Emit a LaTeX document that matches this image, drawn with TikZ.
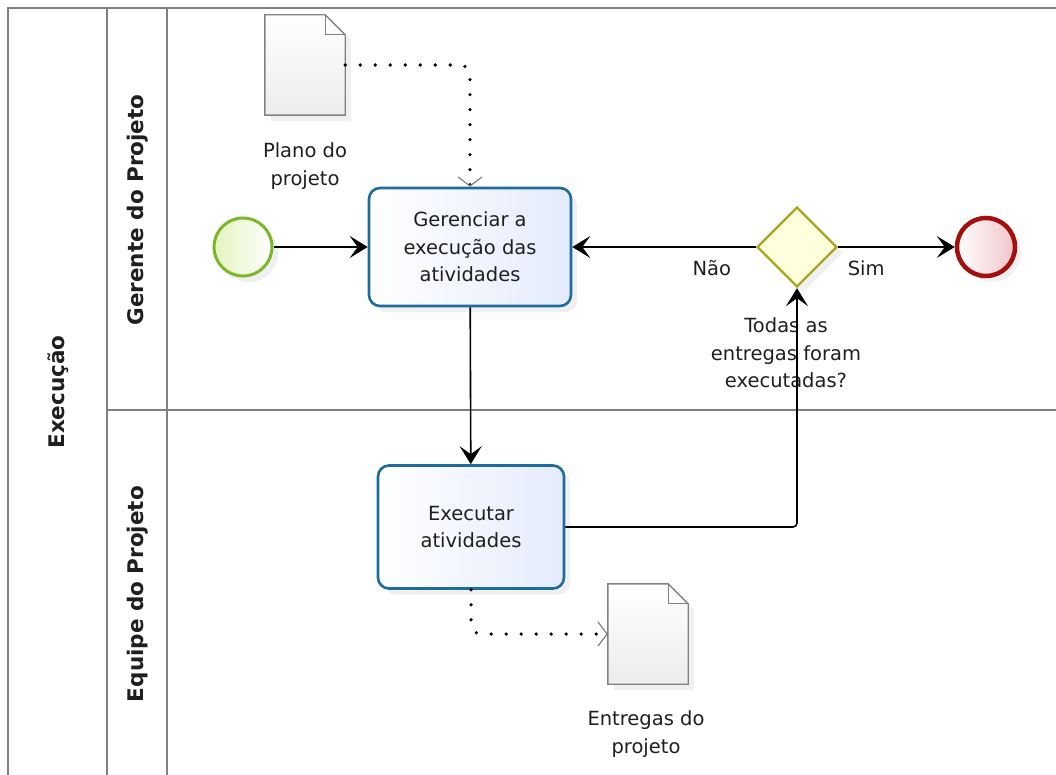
\documentclass[tikz,border=0pt]{standalone}
\usepackage{fontspec}
\setmainfont{DejaVu Sans}
\usepackage{tikz}
\usetikzlibrary{arrows.meta}
\usetikzlibrary{shapes.geometric,shadows}

\definecolor{poolgray}{RGB}{128,128,128}
\definecolor{taskblue}{RGB}{28,108,158}
\definecolor{taskfill}{RGB}{228,235,252}
\definecolor{startgreen}{RGB}{122,184,42}
\definecolor{startfill}{RGB}{228,243,190}
\definecolor{gwolive}{RGB}{168,166,30}
\definecolor{gwfill}{RGB}{255,255,222}
\definecolor{endred}{RGB}{166,14,14}
\definecolor{endfill}{RGB}{240,196,200}
\definecolor{docgray}{RGB}{130,130,130}
\definecolor{docfill}{RGB}{236,236,236}

\begin{document}
\begin{tikzpicture}[x=1pt,y=-1pt,
  every node/.style={font=\fontsize{19.5}{27.5}\selectfont,text=black!88},
  lanetext/.style={rotate=90,font=\bfseries\fontsize{21.5}{26}\selectfont},
  pool/.style={draw=poolgray,line width=2pt},
  shade/.style={drop shadow={shadow xshift=6pt,shadow yshift=-6pt,opacity=0.12}},
  task/.style={rectangle,rounded corners=11pt,draw=taskblue,line width=2.6pt,
    left color=white,right color=taskfill,align=center,shade},
  event/.style={circle,minimum size=58pt,inner sep=0pt,shade},
  gate/.style={diamond,aspect=1,minimum size=80pt,inner sep=0pt,draw=gwolive,
    line width=2.4pt,fill=gwfill,shade},
  docbox/.style={rectangle,minimum width=80pt,minimum height=100pt,inner sep=0pt},
  flow/.style={line width=1.6pt,-{Stealth[length=18pt,width=22pt,inset=8pt]}},
  assoc/.style={line width=3.6pt,line cap=round,dash pattern=on 0pt off 15pt,
    -{Straight Barb[length=9pt,width=24pt,line width=1.2pt,color=gray]}}]
\useasboundingbox (0,0) rectangle (1056,775);

% pool and lanes
\draw[pool] (1062,8) -- (8,8) -- (8,782);
\draw[pool] (107,8) -- (107,782);
\draw[pool] (167,8) -- (167,782);
\draw[pool] (107,410) -- (1062,410);
\node[lanetext] (pool) at (58,392) {Execução};
\node[lanetext] (gerente) at (138,210) {Gerente do Projeto};
\node[lanetext] (equipe) at (138,594) {Equipe do Projeto};

% data objects
\node[docbox] (plano) at (305,65) {};
\node[docbox] (entregas) at (648,634) {};
\foreach \d in {plano,entregas}{
  \path[draw=docgray,line width=1.4pt,top color=white,bottom color=docfill,shade]
    (\d.south west) -- (\d.north west) -- ([xshift=-20pt]\d.north east)
    -- ([yshift=-20pt]\d.north east) -- (\d.south east) -- cycle;
  \draw[docgray,line width=1pt] ([xshift=-20pt]\d.north east)
    -- ([xshift=-20pt,yshift=-20pt]\d.north east) -- ([yshift=-20pt]\d.north east);
}
\node[align=center] (planotxt) at (305,166) {Plano do\\projeto};
\node[align=center] (entregastxt) at (646,734) {Entregas do\\projeto};

% events, tasks, gateway
\node[event,draw=startgreen,line width=3pt,left color=startfill,right color=white] (start) at (243,247) {};
\node[task,minimum width=202pt,minimum height=118pt] (gerenciar) at (470,247) {Gerenciar a\\execução das\\atividades};
\node[task,minimum width=186pt,minimum height=123pt] (executar) at (471,527) {Executar\\atividades};
\node[gate] (gw) at (797,247) {};
\node[event,draw=endred,line width=4.5pt,left color=white,right color=endfill] (fim) at (986,247) {};
\node[align=center] (pergunta) at (786,353) {Todas as\\entregas foram\\executadas?};

% sequence flows
\draw[flow] (start) -- (gerenciar);
\draw[flow] (gerenciar) -- (executar);
\draw[flow,rounded corners=4pt] (executar.east) -| (gw.south);
\draw[flow] (gw.west) -- node[pos=0.24,yshift=-21pt] (nao) {Não} (gerenciar.east);
\draw[flow] (gw.east) -- node[pos=0.24,yshift=-21pt] (sim) {Sim} (fim.west);

% associations
\draw[assoc,rounded corners=10pt] (plano.east) -| (gerenciar.north);
\draw[assoc,rounded corners=10pt] (executar.south) |- (entregas.west);
\end{tikzpicture}
\end{document}
